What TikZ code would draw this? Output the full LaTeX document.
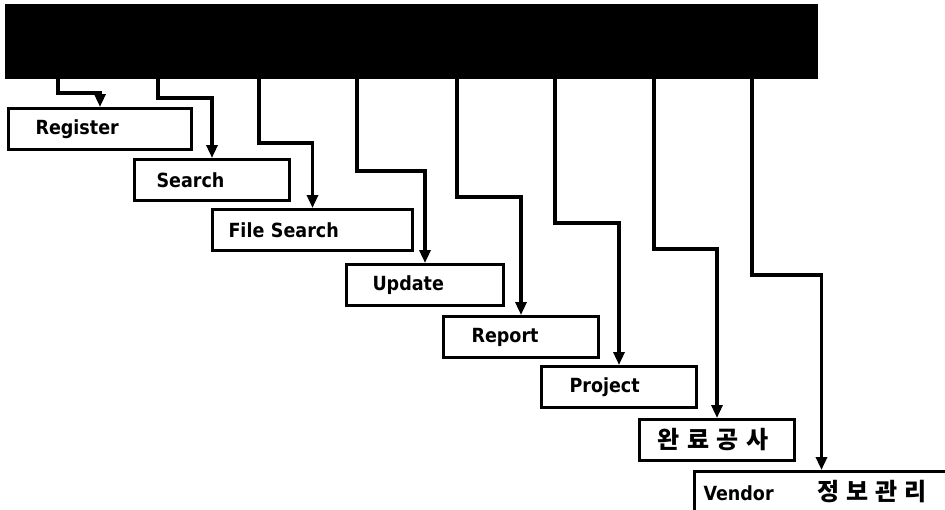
\documentclass[tikz,border=0pt]{standalone}
\usepackage{fontspec}
\setmainfont{DejaVu Sans Condensed}
\newfontfamily\kr{Noto Sans CJK KR}
\usetikzlibrary{arrows.meta}
\begin{document}
\begin{tikzpicture}[x=1pt,y=-1pt,
  conn/.style={line width=3.2pt,-{Triangle[length=13pt,width=11pt]}},
  boxnode/.style={draw,line width=3pt,anchor=north west,inner ysep=0pt,
    minimum height=41pt,align=left,font=\bfseries\fontsize{19.5}{22}\selectfont}]
\useasboundingbox (0,0) rectangle (945,509);
\node[fill=black,draw=black,anchor=north west,inner sep=0pt,minimum width=812pt,minimum height=74pt] (bar) at (5,4) {};
% boxes: width = text width + 2*inner xsep
\node[boxnode,inner xsep=27pt,text width=129pt] (reg) at (7,107) {Register};
\node[boxnode,inner xsep=22pt,text width=111pt] (srch) at (133,158) {Search};
\node[boxnode,inner xsep=16pt,text width=168pt] (fsrch) at (211,208) {File Search};
\node[boxnode,inner xsep=26pt,text width=105pt] (upd) at (345,263) {Update};
\node[boxnode,inner xsep=28pt,text width=99pt] (rep) at (442,315) {Report};
\node[boxnode,inner xsep=28pt,text width=99pt] (proj) at (540,365) {Project};
\node[boxnode,inner xsep=18pt,text width=119pt] (wan) at (638,418) {\kr\fontsize{24}{26}\selectfont 완\hspace{7.5pt}료\hspace{7.5pt}공\hspace{7.5pt}사};
\node[boxnode,inner xsep=9pt,text width=236pt] (ven) at (693,470) {Vendor\hspace{44pt}{\kr\fontsize{24}{26}\selectfont 정\hspace{7pt}보\hspace{7pt}관\hspace{7pt}리}};
% elbow points
\coordinate (e1) at (58,93);
\coordinate (e2) at (158,98);
\coordinate (e3) at (259,143);
\coordinate (e4) at (357,171);
\coordinate (e5) at (457,197);
\coordinate (e6) at (555,223);
\coordinate (e7) at (654,249);
\coordinate (e8) at (752,275);
\draw[conn] (bar.south -| e1) -- (e1) -| (reg.north);
\draw[conn] (bar.south -| e2) -- (e2) -| (srch.north);
\draw[conn] (bar.south -| e3) -- (e3) -| (fsrch.north);
\draw[conn] (bar.south -| e4) -- (e4) -| (upd.north);
\draw[conn] (bar.south -| e5) -- (e5) -| (rep.north);
\draw[conn] (bar.south -| e6) -- (e6) -| (proj.north);
\draw[conn] (bar.south -| e7) -- (e7) -| (wan.north);
\draw[conn] (bar.south -| e8) -- (e8) -| (ven.north);
\end{tikzpicture}
\end{document}
